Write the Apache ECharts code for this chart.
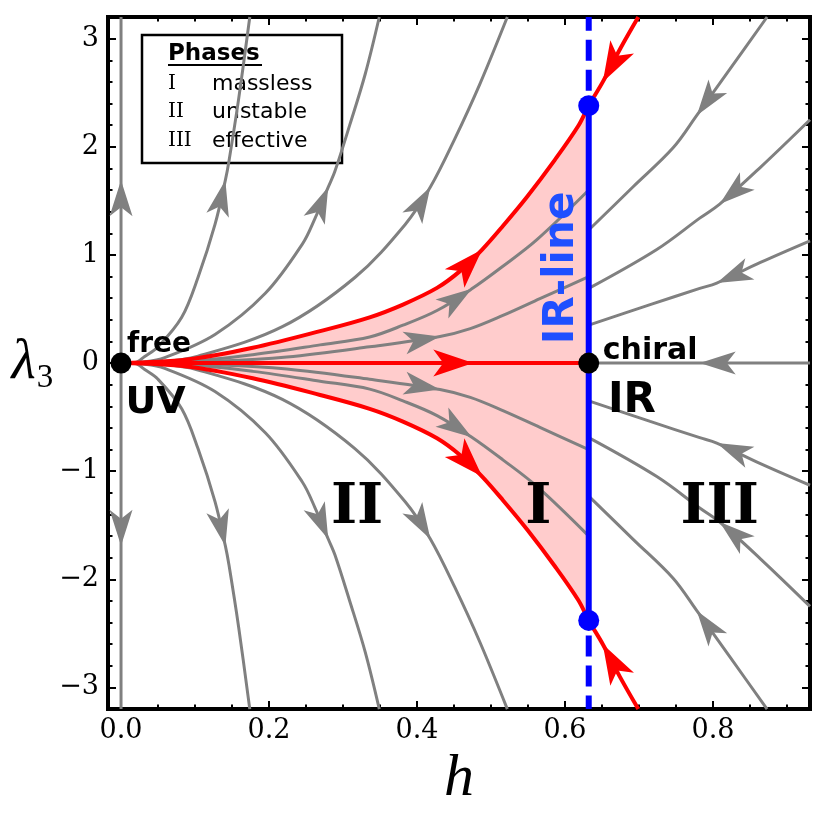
<!DOCTYPE html>
<html>
<head>
<meta charset="utf-8">
<title>RG flow h - lambda3</title>
<script src="https://cdn.jsdelivr.net/npm/echarts@6/dist/echarts.min.js"></script>
<style>
    html, body { margin: 0; padding: 0; background: #fff; }
    #chart { width: 831px; height: 814px; }
</style>
</head>
<body>
<div id="chart"></div>
<script>
// 坐标轴刻度
const xMajorTicks = [0, 0.2, 0.4, 0.6, 0.8];
const xMinorTicks = [0.05, 0.1, 0.15, 0.25, 0.3, 0.35, 0.45, 0.5, 0.55, 0.65, 0.7, 0.75, 0.85, 0.9];
const yMajorTicks = [-3, -2, -1, 0, 1, 2, 3];
const yMinorTicks = [-2.8, -2.6, -2.4, -2.2, -1.8, -1.6, -1.4, -1.2, -0.8, -0.6, -0.4, -0.2,
    0.2, 0.4, 0.6, 0.8, 1.2, 1.4, 1.6, 1.8, 2.2, 2.4, 2.6, 2.8];

// 不动点
const uvPoint = [0, 0];
const irPoint = [0.632, 0];
const irLineH = 0.632;
const irEnds = [2.38, -2.38];

// 流线 [h, λ3]，按流动方向排列
const hAxisUp = [[0, 0], [0, 1.69], [0, 3.2]];
const hAxisDown = [[0, 0], [0, -1.69], [0, -3.2]];

const g2Up = [[0, 0], [0.019, 0.005], [0.032, 0.06], [0.05, 0.15], [0.082, 0.423], [0.104, 0.791], [0.127, 1.282], [0.141, 1.691], [0.146, 1.873], [0.159, 2.445], [0.174, 3.2]];
const g2Down = [[0, 0], [0.019, -0.005], [0.032, -0.06], [0.05, -0.15], [0.082, -0.423], [0.104, -0.791], [0.127, -1.282], [0.141, -1.691], [0.146, -1.873], [0.159, -2.445], [0.174, -3.2]];
const g3Up = [[0, 0], [0.03, 0.01], [0.059, 0.05], [0.127, 0.264], [0.195, 0.645], [0.245, 1.1], [0.262, 1.336], [0.28, 1.627], [0.289, 1.773], [0.309, 2.2], [0.33, 2.673], [0.349, 3.2]];
const g3Down = [[0, 0], [0.03, -0.01], [0.059, -0.05], [0.127, -0.264], [0.195, -0.645], [0.245, -1.1], [0.262, -1.336], [0.28, -1.627], [0.289, -1.773], [0.309, -2.2], [0.33, -2.673], [0.349, -3.2]];
const g4Up = [[0, 0], [0.05, 0.01], [0.104, 0.064], [0.218, 0.336], [0.316, 0.791], [0.384, 1.282], [0.418, 1.627], [0.451, 2.073], [0.485, 2.582], [0.522, 3.2]];
const g4Down = [[0, 0], [0.05, -0.01], [0.104, -0.064], [0.218, -0.336], [0.316, -0.791], [0.384, -1.282], [0.418, -1.627], [0.451, -2.073], [0.485, -2.582], [0.522, -3.2]];

const g5Up = [[0, 0], [0.089, 0.014], [0.178, 0.077], [0.269, 0.168], [0.336, 0.241], [0.381, 0.35], [0.427, 0.486], [0.474, 0.686], [0.516, 0.895], [0.562, 1.141], [0.632, 1.6]];
const g5Down = [[0, 0], [0.089, -0.014], [0.178, -0.077], [0.269, -0.168], [0.336, -0.241], [0.381, -0.35], [0.427, -0.486], [0.474, -0.686], [0.516, -0.895], [0.562, -1.141], [0.632, -1.6]];
const g6Up = [[0, 0], [0.134, 0.018], [0.224, 0.055], [0.336, 0.15], [0.431, 0.245], [0.472, 0.318], [0.516, 0.44], [0.566, 0.595], [0.632, 0.8]];
const g6Down = [[0, 0], [0.134, -0.018], [0.224, -0.055], [0.336, -0.15], [0.431, -0.245], [0.472, -0.318], [0.516, -0.44], [0.566, -0.595], [0.632, -0.8]];

const r1Up = [[0.873, 3.2], [0.823, 2.72], [0.778, 2.29], [0.746, 1.99], [0.692, 1.63], [0.632, 1.23]];
const r1Down = [[0.873, -3.2], [0.823, -2.72], [0.778, -2.29], [0.746, -1.99], [0.692, -1.63], [0.632, -1.23]];
const r2Up = [[0.931, 2.25], [0.864, 1.81], [0.809, 1.47], [0.782, 1.34], [0.724, 1.05], [0.632, 0.69]];
const r2Down = [[0.931, -2.25], [0.864, -1.81], [0.809, -1.47], [0.782, -1.34], [0.724, -1.05], [0.632, -0.69]];
const r3Up = [[0.931, 1.13], [0.864, 0.93], [0.805, 0.74], [0.782, 0.69], [0.715, 0.54], [0.632, 0.35]];
const r3Down = [[0.931, -1.13], [0.864, -0.93], [0.805, -0.74], [0.782, -0.69], [0.715, -0.54], [0.632, -0.35]];
const r0 = [[0.931, 0], [0.782, 0], [0.632, 0]];

// 分界线（红）
const redUp = [[0, 0], [0.089, 0.032], [0.178, 0.141], [0.269, 0.295], [0.336, 0.423], [0.381, 0.541], [0.427, 0.695], [0.458, 0.85], [0.488, 1.05], [0.516, 1.268], [0.549, 1.541], [0.586, 1.877], [0.618, 2.194], [0.632, 2.38]];
const redDown = [[0, 0], [0.089, -0.032], [0.178, -0.141], [0.269, -0.295], [0.336, -0.423], [0.381, -0.541], [0.427, -0.695], [0.458, -0.85], [0.488, -1.05], [0.516, -1.268], [0.549, -1.541], [0.586, -1.877], [0.618, -2.194], [0.632, -2.38]];
const redUpExt = [[0.699, 3.2], [0.674, 2.9], [0.651, 2.6], [0.632, 2.38]];
const redDownExt = [[0.699, -3.2], [0.674, -2.9], [0.651, -2.6], [0.632, -2.38]];
const redCenter = [[0, 0], [0.476, 0], [0.632, 0]];

// 颜色
const colors = {
    gray: '#808080',
    red: '#ff0000',
    blue: '#0000ff',
    pink: '#ffcccc',
    irText: '#1f4fff'
};

// 箭头位置（数组下标）
const grayCurves = [
    { pts: hAxisUp, at: 1 }, { pts: hAxisDown, at: 1 },
    { pts: g2Up, at: 7 }, { pts: g2Down, at: 7 },
    { pts: g3Up, at: 7 }, { pts: g3Down, at: 7 },
    { pts: g4Up, at: 6 }, { pts: g4Down, at: 6 },
    { pts: g5Up, at: 7 }, { pts: g5Down, at: 7 },
    { pts: g6Up, at: 4 }, { pts: g6Down, at: 4 },
    { pts: r1Up, at: 2 }, { pts: r1Down, at: 2 },
    { pts: r2Up, at: 2 }, { pts: r2Down, at: 2 },
    { pts: r3Up, at: 2 }, { pts: r3Down, at: 2 },
    { pts: r0, at: 1 }
];
const redCurves = [
    { pts: redUp, at: 8 }, { pts: redDown, at: 8 },
    { pts: redUpExt, at: 2 }, { pts: redDownExt, at: 2 },
    { pts: redCenter, at: 1 }
];
// 红线绘制：分界线穿过蓝点连成一条
const redStrokes = [
    redUp.concat(redUpExt.slice(0, -1).reverse()),
    redDown.concat(redDownExt.slice(0, -1).reverse()),
    redCenter
];

const xMin = -0.0176, xMax = 0.931;
const yMin = -3.2, yMax = 3.2;

function curveSeries(pts, color, width, z) {
    return {
        type: 'line', data: pts, symbol: 'none', showSymbol: false, smooth: 0.35,
        lineStyle: { color: color, width: width }, z: z, silent: true
    };
}

function fillSeries(pts) {
    return {
        type: 'line', data: pts, symbol: 'none', showSymbol: false, smooth: 0.35,
        lineStyle: { width: 0, opacity: 0 },
        areaStyle: { color: colors.pink, opacity: 1, origin: 0 }, z: 1, silent: true
    };
}

// 箭头：沿曲线切线方向画三角
function arrowSeries(list, color, len, wid, z) {
    const data = list.map(c => {
        const t = c.pts[c.at], p = c.pts[c.at - 1], n = c.pts[c.at + 1];
        return [t[0], t[1], p[0], p[1], n[0], n[1]];
    });
    return {
        type: 'custom', data: data, z: z, silent: true, clip: false,
        encode: { x: 0, y: 1 },
        renderItem: function (params, api) {
            const t = api.coord([api.value(0), api.value(1)]);
            const p = api.coord([api.value(2), api.value(3)]);
            const n = api.coord([api.value(4), api.value(5)]);
            let dx = n[0] - p[0], dy = n[1] - p[1];
            const d = Math.sqrt(dx * dx + dy * dy) || 1;
            dx /= d; dy /= d;
            const nx = -dy, ny = dx;
            const bx = t[0] - dx * len, by = t[1] - dy * len;
            const mx = t[0] - dx * len * 0.75, my = t[1] - dy * len * 0.75;
            return {
                type: 'polygon',
                shape: { points: [t, [bx + nx * wid / 2, by + ny * wid / 2], [mx, my], [bx - nx * wid / 2, by - ny * wid / 2]] },
                style: { fill: color, stroke: null }
            };
        }
    };
}

function xAxisDef(position, ticks, len, withLabel) {
    return {
        type: 'value', min: xMin, max: xMax, position: position,
        axisLine: { show: false, onZero: false },
        splitLine: { show: false },
        axisTick: { show: true, inside: true, length: len, customValues: ticks, lineStyle: { color: '#000', width: 2 } },
        axisLabel: withLabel ? {
            show: true, customValues: ticks, margin: 8, color: '#000',
            fontFamily: 'DejaVu Serif', fontSize: 27,
            formatter: v => v.toFixed(1)
        } : { show: false }
    };
}

function yAxisDef(position, ticks, len, withLabel) {
    return {
        type: 'value', min: yMin, max: yMax, position: position,
        axisLine: { show: false, onZero: false },
        splitLine: { show: false },
        axisTick: { show: true, inside: true, length: len, customValues: ticks, lineStyle: { color: '#000', width: 2 } },
        axisLabel: withLabel ? {
            show: true, customValues: ticks, margin: 9, color: '#000',
            fontFamily: 'DejaVu Serif', fontSize: 27,
            formatter: v => (v < 0 ? '\u2212' + Math.abs(v) : String(v))
        } : { show: false }
    };
}

const xAxes = [
    xAxisDef('bottom', xMajorTicks, 8, true),
    xAxisDef('bottom', xMinorTicks, 4.5, false),
    xAxisDef('top', xMajorTicks, 8, false),
    xAxisDef('top', xMinorTicks, 4.5, false)
];
Object.assign(xAxes[0], {
    name: 'h', nameLocation: 'middle', nameGap: 32,
    nameTextStyle: { color: '#000', fontFamily: 'Liberation Serif', fontStyle: 'italic', fontSize: 60 }
});

const yAxes = [
    yAxisDef('left', yMajorTicks, 8, true),
    yAxisDef('left', yMinorTicks, 4.5, false),
    yAxisDef('right', yMajorTicks, 8, false),
    yAxisDef('right', yMinorTicks, 4.5, false)
];
Object.assign(yAxes[0], {
    name: '{l|\u03bb}{s|3}', nameLocation: 'middle', nameRotate: 0, nameGap: 45,
    nameTextStyle: {
        color: '#000',
        rich: {
            l: { fontFamily: 'Liberation Serif', fontStyle: 'italic', fontSize: 56, color: '#000' },
            s: { fontFamily: 'Liberation Serif', fontSize: 33, color: '#000', padding: [30, 0, 0, 1] }
        }
    }
});

const sans = 'DejaVu Sans';
const serif = 'DejaVu Serif';

function textItem(pos, text, opts) {
    return {
        value: pos,
        label: Object.assign({
            show: true, position: 'inside', formatter: text, color: '#000',
            fontFamily: sans, fontWeight: 'bold', align: 'left', verticalAlign: 'middle'
        }, opts)
    };
}

const chart = echarts.init(document.getElementById('chart'));

const series = [
    fillSeries(redUp),
    fillSeries(redDown)
];
grayCurves.forEach(c => series.push(curveSeries(c.pts, colors.gray, 3, 2)));
redStrokes.forEach(pts => series.push(curveSeries(pts, colors.red, 4, 3)));

// IR 线
series.push({
    type: 'line', data: [[irLineH, irEnds[1]], [irLineH, irEnds[0]]], symbol: 'none',
    lineStyle: { color: colors.blue, width: 6 }, z: 4, silent: true
});
[[[irLineH, irEnds[0]], [irLineH, yMax]], [[irLineH, irEnds[1]], [irLineH, yMin]]].forEach(d => {
    series.push({
        type: 'line', data: d, symbol: 'none',
        lineStyle: { color: colors.blue, width: 6, type: [21, 9], dashOffset: 15 }, z: 4, silent: true
    });
});

series.push(arrowSeries(grayCurves, colors.gray, 36, 23, 5));
series.push(arrowSeries(redCurves, colors.red, 40, 27, 5));

// 不动点
series.push({
    type: 'scatter', symbol: 'circle', symbolSize: 21, z: 6, silent: true,
    itemStyle: { opacity: 1 },
    data: [
        { value: uvPoint, itemStyle: { color: '#000', opacity: 1 } },
        { value: irPoint, itemStyle: { color: '#000', opacity: 1 } },
        { value: [irLineH, irEnds[0]], itemStyle: { color: colors.blue, opacity: 1 } },
        { value: [irLineH, irEnds[1]], itemStyle: { color: colors.blue, opacity: 1 } }
    ]
});

// 文字标注
series.push({
    type: 'scatter', symbolSize: 0, z: 7, silent: true,
    itemStyle: { color: 'rgba(0,0,0,0)', opacity: 1 },
    data: [
        textItem([0.008, 0.165], 'free', { fontSize: 28 }),
        textItem([0.006, -0.37], 'UV', { fontSize: 38 }),
        textItem([0.651, 0.11], 'chiral', { fontSize: 30 }),
        textItem([0.658, -0.35], 'IR', { fontSize: 42 }),
        textItem([0.319, -1.34], 'II', { fontFamily: serif, fontSize: 56, align: 'center' }),
        textItem([0.564, -1.34], 'I', { fontFamily: serif, fontSize: 56, align: 'center' }),
        textItem([0.809, -1.34], 'III', { fontFamily: serif, fontSize: 56, align: 'center' }),
        textItem([0.596, 0.88], 'IR-line', { fontSize: 42, align: 'center', rotate: 90, color: colors.irText })
    ]
});

const option = {
    animation: false,
    backgroundColor: '#fff',
    grid: {
        left: 108, right: 21, top: 17, bottom: 94,
        show: true, borderColor: '#000', borderWidth: 4, backgroundColor: 'transparent'
    },
    xAxis: xAxes,
    yAxis: yAxes,
    series: series,
    graphic: [
        {
            type: 'group', z: 100,
            children: [
                { type: 'rect', shape: { x: 142, y: 35, width: 200, height: 128 }, style: { fill: '#fff', stroke: '#000', lineWidth: 2.5 } },
                { type: 'text', x: 168, y: 54, style: { text: 'Phases', fontFamily: sans, fontWeight: 'bold', fontSize: 23, fill: '#000', verticalAlign: 'middle' } },
                { type: 'line', shape: { x1: 168, y1: 65, x2: 262, y2: 65 }, style: { stroke: '#000', lineWidth: 2 } },
                { type: 'text', x: 168, y: 84, style: { text: 'I', fontFamily: serif, fontSize: 20, fill: '#000', verticalAlign: 'middle' } },
                { type: 'text', x: 212, y: 84, style: { text: 'massless', fontFamily: sans, fontSize: 22, fill: '#000', verticalAlign: 'middle' } },
                { type: 'text', x: 168, y: 112, style: { text: 'II', fontFamily: serif, fontSize: 20, fill: '#000', verticalAlign: 'middle' } },
                { type: 'text', x: 212, y: 112, style: { text: 'unstable', fontFamily: sans, fontSize: 22, fill: '#000', verticalAlign: 'middle' } },
                { type: 'text', x: 168, y: 141, style: { text: 'III', fontFamily: serif, fontSize: 20, fill: '#000', verticalAlign: 'middle' } },
                { type: 'text', x: 212, y: 141, style: { text: 'effective', fontFamily: sans, fontSize: 22, fill: '#000', verticalAlign: 'middle' } }
            ]
        }
    ]
};

chart.setOption(option);

window.addEventListener('resize', () => {
    if (chart) {
        chart.resize();
    }
});
</script>
</body>
</html>
